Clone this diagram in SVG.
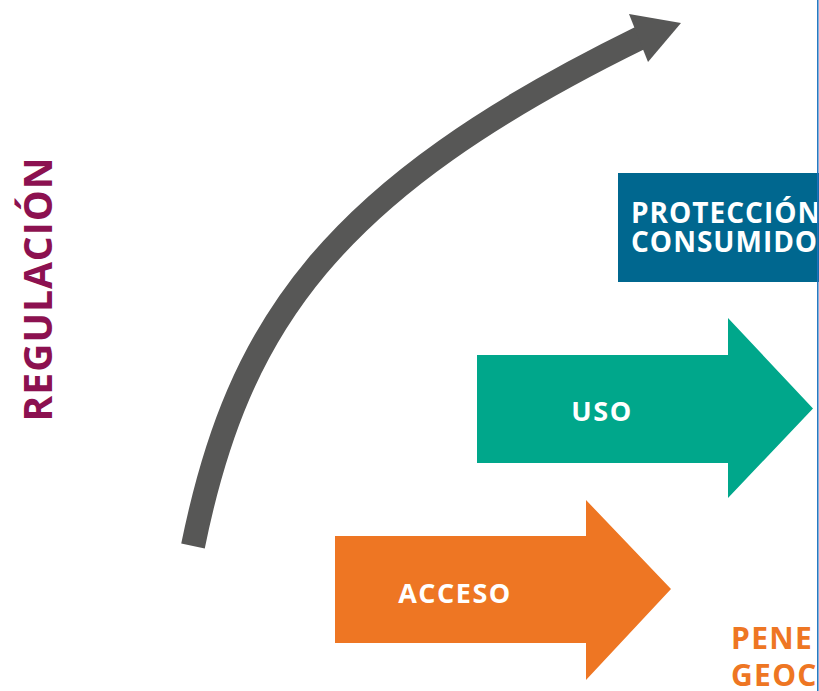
<svg xmlns="http://www.w3.org/2000/svg" width="819" height="691" viewBox="0 0 819 691">
  <style>
    .lbl { font-family: "Open Sans", "Liberation Sans", sans-serif; font-weight: 700; }
    .white { fill: #ffffff; }
  </style>
  <rect x="0" y="0" width="819" height="691" fill="#ffffff"/>

  <g id="connectors">
    <path d="M193,546 C238,325 330,190 640,38" fill="none" stroke="#575756" stroke-width="24" stroke-linecap="butt"/>
    <polygon points="629,14 681,23 648,62" fill="#575756"/>
  </g>

  <g id="regulacion">
    <text class="lbl" transform="translate(52,289) rotate(-90)" text-anchor="middle" font-size="39" letter-spacing="1" fill="#8C1150">REGULACIÓN</text>
  </g>

  <g id="proteccion">
    <rect x="618" y="173" width="201" height="109" fill="#00678F"/>
    <text class="lbl white" x="631" y="223" font-size="28" letter-spacing="1">PROTECCIÓN</text>
    <text class="lbl white" x="631" y="252" font-size="28" letter-spacing="1">CONSUMIDO</text>
  </g>

  <g id="uso">
    <polygon points="477,355 728,355 728,318 813,408.5 728,498 728,463 477,463" fill="#00A78B"/>
    <text class="lbl white" x="602" y="421" font-size="27" letter-spacing="1.5" text-anchor="middle">USO</text>
  </g>

  <g id="acceso">
    <polygon points="335,536 586,536 586,500 671,589 586,680 586,643 335,643" fill="#EE7623"/>
    <text class="lbl white" x="455" y="603" font-size="27" letter-spacing="1.5" text-anchor="middle">ACCESO</text>
  </g>

  <g id="penetracion">
    <text class="lbl" x="731" y="649" font-size="30" letter-spacing="1.3" fill="#EE7623">PENE</text>
    <text class="lbl" x="731" y="686" font-size="30" letter-spacing="1.3" fill="#EE7623">GEOC</text>
  </g>

  <line x1="817.8" y1="0" x2="817.8" y2="691" stroke="#1E73BE" stroke-width="1.5"/>
</svg>
